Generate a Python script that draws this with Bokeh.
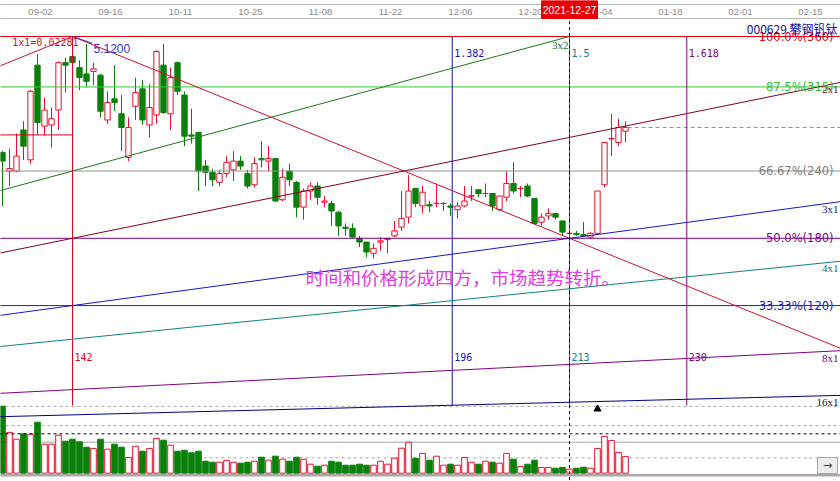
from bokeh.plotting import figure
from bokeh.layouts import column
from bokeh.models import ColumnDataSource, Range1d
from bokeh.core.properties import value
from bokeh.embed import file_html
from bokeh.resources import INLINE

# ---------------------------------------------------------------------------
# 000629 攀钢钒钛 daily bars, 2021-08-25 (index 0) .. 2022-01-07 (index 89)
# ---------------------------------------------------------------------------
opens = [4.19, 4.04, 4.04, 4.37, 4.13, 4.89, 4.40, 4.41, 4.53, 4.91,
         4.96, 4.87, 4.82, 4.84, 4.81, 4.45, 4.62, 4.50, 4.15, 4.56,
         4.70, 4.41, 4.49, 4.89, 4.50, 4.91, 4.65, 4.33, 4.35, 4.08,
         4.03, 3.95, 4.02, 4.05, 4.12, 4.02, 3.93, 4.14, 4.12, 4.14,
         3.81, 4.04, 3.95, 3.75, 3.88, 3.92, 3.79, 3.78, 3.71, 3.59,
         3.58, 3.50, 3.47, 3.38, 3.47, 3.49, 3.52, 3.59, 3.67, 3.90,
         3.76, 3.77, 3.78, 3.78, 3.76, 3.73, 3.76, 3.84, 3.89, 3.86,
         3.86, 3.73, 3.83, 3.94, 3.90, 3.92, 3.82, 3.63, 3.68, 3.70,
         3.64, 3.54, 3.54, 3.53, 3.51, 3.54, 3.93, 4.30, 4.27, 4.36]
highs = [4.20, 4.22, 4.34, 4.44, 4.69, 4.98, 4.63, 4.55, 4.92, 4.95,
         5.12, 4.93, 5.06, 4.91, 4.82, 4.68, 4.89, 4.65, 4.47, 4.79,
         4.77, 4.74, 5.01, 5.06, 4.87, 4.92, 4.68, 4.54, 4.35, 4.13,
         4.06, 4.05, 4.16, 4.20, 4.16, 4.05, 4.15, 4.28, 4.24, 4.14,
         4.06, 4.10, 3.96, 3.90, 3.95, 3.95, 3.84, 3.80, 3.72, 3.62,
         3.62, 3.52, 3.47, 3.46, 3.51, 3.50, 3.64, 3.88, 4.01, 3.90,
         3.92, 3.80, 3.94, 3.79, 3.78, 3.79, 3.92, 3.92, 3.89, 3.94,
         3.86, 3.84, 4.04, 4.11, 3.92, 3.94, 3.82, 3.70, 3.74, 3.70,
         3.64, 3.59, 3.56, 3.63, 3.55, 3.88, 4.27, 4.50, 4.46, 4.44]
lows = [3.76, 3.92, 4.03, 4.13, 4.10, 4.33, 4.33, 4.23, 4.37, 4.67,
        4.68, 4.69, 4.71, 4.73, 4.47, 4.42, 4.52, 4.20, 4.12, 4.45,
        4.41, 4.31, 4.42, 4.50, 4.37, 4.65, 4.24, 4.26, 3.88, 3.92,
        3.92, 3.92, 3.99, 3.96, 4.05, 3.90, 3.91, 4.07, 4.04, 3.79,
        3.80, 3.92, 3.67, 3.65, 3.81, 3.77, 3.75, 3.60, 3.52, 3.52,
        3.50, 3.43, 3.35, 3.34, 3.40, 3.38, 3.51, 3.56, 3.62, 3.75,
        3.70, 3.71, 3.75, 3.72, 3.68, 3.66, 3.75, 3.80, 3.83, 3.83,
        3.72, 3.72, 3.80, 3.86, 3.83, 3.83, 3.61, 3.60, 3.65, 3.65,
        3.52, 3.50, 3.52, 3.51, 3.50, 3.53, 3.91, 4.16, 4.24, 4.27]
closes = [4.12, 4.06, 4.16, 4.24, 4.68, 4.43, 4.53, 4.46, 4.91, 4.89,
          4.91, 4.79, 4.76, 4.86, 4.52, 4.59, 4.59, 4.39, 4.39, 4.67,
          4.45, 4.55, 5.00, 4.51, 4.79, 4.68, 4.32, 4.32, 4.04, 4.03,
          3.97, 4.02, 4.11, 4.12, 4.08, 3.92, 4.10, 4.13, 4.14, 3.80,
          3.99, 3.97, 3.75, 3.88, 3.92, 3.83, 3.80, 3.72, 3.60, 3.58,
          3.51, 3.47, 3.39, 3.42, 3.48, 3.50, 3.56, 3.66, 3.88, 3.78,
          3.87, 3.76, 3.78, 3.78, 3.75, 3.76, 3.80, 3.84, 3.86, 3.86,
          3.76, 3.84, 3.94, 3.88, 3.90, 3.84, 3.62, 3.67, 3.70, 3.67,
          3.55, 3.54, 3.53, 3.52, 3.54, 3.88, 4.27, 4.30, 4.39, 4.39]
# volume, 万手
volumes = [335, 204, 170, 197, 195, 255, 145, 145, 190, 160,
           170, 157, 130, 124, 170, 120, 145, 130, 79, 135,
           110, 124, 174, 165, 140, 110, 115, 102, 110, 60,
           55, 55, 64, 55, 50, 55, 60, 80, 65, 85,
           70, 60, 80, 70, 45, 35, 40, 60, 55, 40,
           40, 45, 40, 40, 60, 45, 75, 125, 155, 75,
           99, 65, 85, 40, 45, 40, 79, 55, 45, 60,
           55, 50, 99, 70, 34, 45, 65, 29, 29, 25,
           29, 20, 25, 30, 25, 124, 184, 164, 104, 84]

# date strip: bar index of each label (bars past the end are future sessions)
date_ticks = [6, 16, 26, 36, 46, 56, 66, 76, 86, 96, 106, 116]
date_labels = ["09-02", "09-16", "10-11", "10-25", "11-08", "11-22",
               "12-06", "12-20", "01-04", "01-18", "02-01", "02-15"]

# ---------------------------------------------------------------------------
# Gann square set-up
# ---------------------------------------------------------------------------
HIGH_BAR = 142            # time count (bars from the swing low) of the 5.12 top
HIGH_PRICE = 5.12
UNIT = 0.02281            # 1x1 step: price per bar
FIRST_BAR = 132           # time count of bar index 0
LOW_PRICE = HIGH_PRICE - UNIT * HIGH_BAR

fan_names = ["1x1", "3x2", "2x1", "3x1", "4x1", "8x1", "16x1"]
fan_ratios = [1.0, 2 / 3, 1 / 2, 1 / 3, 1 / 4, 1 / 8, 1 / 16]
fan_colors = ["#d4102c", "#1a7a1a", "#800020", "#1818c0", "#108080", "#800080", "#000080"]
fan_text_colors = ["#d4102c", "#1a6a1a", "#800020", "#20208a", "#107070", "#700070", "#101040"]

level_pcts = [100.0, 87.5, 66.67, 50.0, 33.33]
level_colors = ["#e00010", "#33cc33", "#909090", "#800080", "#2020c0"]
level_text_colors = ["#e00010", "#33bb33", "#808080", "#800080", "#2020c0"]

time_ratios = [1.0, 1.382, 1.5, 1.618]
time_colors = ["#e00020", "#1010c0", "#108080", "#800080"]

REF_PRICE = 4.33          # short reference level up to the 142 line
CURSOR_INDEX = 81
CURSOR_DATE = "2021-12-27"
SIGNAL_INDEX = 85
CURSOR_VOLUME = 197
vol_guides = [334, 238, 155, 77]
vol_guide_dash = ["3 3", "3 3", "solid", "3 3"]

TITLE = "000629 攀钢钒钛"
NOTE = "时间和价格形成四方，市场趋势转折。"

# ---------------------------------------------------------------------------
# view geometry
# ---------------------------------------------------------------------------
WIDTH, HEADER_H, MAIN_H = 840, 19, 462
PX_PER_BAR = 7.0
PX_PER_YUAN = 124.6
X_START = FIRST_BAR - 2 / PX_PER_BAR
X_END = X_START + WIDTH / PX_PER_BAR
PRICE_TOP = HIGH_PRICE + 17 / PX_PER_YUAN
PRICE_BOTTOM = PRICE_TOP - MAIN_H / PX_PER_YUAN
PANE_LOW = PRICE_TOP - 386 / PX_PER_YUAN
VOL_PER_PX = 5.0
VOL_BASE = 453.7
VOL_TOP = VOL_BASE * VOL_PER_PX
VOL_BOTTOM = -(MAIN_H - VOL_BASE) * VOL_PER_PX

UP, DOWN = "#e8102a", "#0a800a"

# ---------------------------------------------------------------------------
p = figure(width=WIDTH, height=MAIN_H,
           x_range=Range1d(X_START, X_END), y_range=Range1d(PRICE_BOTTOM, PRICE_TOP),
           x_axis_location=None, y_axis_location=None,
           toolbar_location=None, output_backend="svg", min_border=0)
p.xgrid.visible = False
p.ygrid.visible = False
p.outline_line_color = None
p.background_fill_color = "white"
p.border_fill_color = "white"
p.extra_y_ranges = {"vol": Range1d(VOL_BOTTOM, VOL_TOP)}

xl, xr = X_START - 1, X_END + 1

# volume pane guides
for lvl, dash in zip(vol_guides, vol_guide_dash):
    p.segment(xl, lvl, xr, lvl, y_range_name="vol", line_color="#a8a8a8",
              line_width=1, line_dash=dash)
p.segment(xl, -10.5, xr, -10.5, y_range_name="vol", line_color="#b0a6a8", line_width=2.5)

n = len(opens)
bars = [FIRST_BAR + i for i in range(n)]
rising = [c >= o for o, c in zip(opens, closes)]
src = ColumnDataSource(dict(
    t=bars, o=opens, h=highs, l=lows, c=closes, vol=volumes,
    top=[max(o, c) for o, c in zip(opens, closes)],
    bot=[min(o, c) for o, c in zip(opens, closes)],
    color=[UP if r else DOWN for r in rising],
    fill=["white" if r else DOWN for r in rising],
))

# volume bars
p.vbar(x="t", width=0.8, top="vol", bottom=0, y_range_name="vol",
       fill_color="fill", line_color="color", source=src)

# candles
p.segment(x0="t", y0="h", x1="t", y1="l", line_color="color", source=src)
p.vbar(x="t", width=0.76, top="top", bottom="bot", fill_color="fill",
       line_color="color", source=src)
doji = [i for i in range(n) if opens[i] == closes[i]]
p.segment([bars[i] - 0.38 for i in doji], [opens[i] for i in doji],
          [bars[i] + 0.38 for i in doji], [opens[i] for i in doji],
          line_color=UP)

# last close marker
p.segment(bars[-1] + 0.3, closes[-1], xr, closes[-1], line_color="#909090", line_dash="4 3")

# percentage levels
level_prices = [LOW_PRICE + pct / 100 * (HIGH_PRICE - LOW_PRICE) for pct in level_pcts]
for price, col in zip(level_prices, level_colors):
    p.segment(xl, price, xr, price, line_color=col)


def pct_text(pct):
    body = f"{pct:.1f}" if round(pct, 1) == pct else f"{pct:.2f}"
    return f"{body}%({round(pct * 3.6)})"


p.segment(xl, REF_PRICE, HIGH_BAR, REF_PRICE, line_color=level_colors[0])

# time lines at Fibonacci multiples of the 142-bar run
time_bars = [HIGH_BAR * r for r in time_ratios]
for tb, col in zip(time_bars, time_colors):
    p.segment(tb, PANE_LOW, tb, HIGH_PRICE, line_color=col)

# Gann fan from the swing low
fan_label_rows = []
for name, r, col, tcol in zip(fan_names, fan_ratios, fan_colors, fan_text_colors):
    t_top = HIGH_BAR / r
    t_end = min(t_top, xr)
    p.segment(0, LOW_PRICE, t_end, LOW_PRICE + r * UNIT * t_end, line_color=col)
    if name == "1x1":
        continue
    if t_top <= X_END:
        fan_label_rows.append((t_top, HIGH_PRICE, name, tcol, -1, 2))
    else:
        fan_label_rows.append((X_END, LOW_PRICE + r * UNIT * X_END, name, tcol, -2, 1))

# 1x1 falling from the top
p.segment(HIGH_BAR, HIGH_PRICE, xr, HIGH_PRICE - UNIT * (xr - HIGH_BAR),
          line_color=fan_colors[0])

# cursor
cursor_bar = FIRST_BAR + CURSOR_INDEX
p.segment(cursor_bar, PRICE_BOTTOM - 1, cursor_bar, PRICE_TOP + 1,
          line_color="black", line_dash="3 3")
p.segment(xl, CURSOR_VOLUME, xr, CURSOR_VOLUME, y_range_name="vol",
          line_color="black", line_dash="3 3")

# signal marker under the breakout bar
p.scatter([FIRST_BAR + SIGNAL_INDEX], [PANE_LOW - 3.5 / PX_PER_YUAN], marker="triangle",
          size=7, fill_color="black", line_color="black")

# ---- texts ----
for row in fan_label_rows:
    tx, ty, txt, tcol, xo, yo = row
    p.text([tx], [ty], text=[txt], text_font=value("Liberation Serif"),
           text_font_size="11px", text_color=tcol, text_align="right",
           text_baseline="top", x_offset=xo, y_offset=yo)

lvl_src = ColumnDataSource(dict(x=[X_END] * len(level_pcts), y=level_prices,
                                text=[pct_text(v) for v in level_pcts],
                                color=level_text_colors))
p.text("x", "y", text="text", source=lvl_src, text_font=value("DejaVu Sans"),
       text_font_size="11.5px", text_color="color", text_align="right",
       text_baseline="middle", x_offset=-7)

for tb, r, col in zip(time_bars, time_ratios, time_colors):
    if r != 1.0:
        p.text([tb], [HIGH_PRICE], text=[f"{r:g}"], text_font=value("DejaVu Sans Mono"),
               text_font_size="10px", text_color=col, text_baseline="middle",
               x_offset=2, y_offset=16.5)
    p.text([tb], [PANE_LOW], text=[str(round(tb))], text_font=value("DejaVu Sans Mono"),
           text_font_size="10px", text_color=col, text_baseline="middle",
           x_offset=2, y_offset=-48.5)

p.text([HIGH_BAR], [HIGH_PRICE], text=[f"1x1={UNIT}"], text_font=value("DejaVu Sans Mono"),
       text_font_size="10px", text_color="#d4102c", text_align="right",
       text_baseline="middle", x_offset=6, y_offset=6)
p.segment(HIGH_BAR, HIGH_PRICE, HIGH_BAR + 19.5 / PX_PER_BAR, HIGH_PRICE - 6.7 / PX_PER_YUAN,
          line_color="#3030c0")
p.text([HIGH_BAR], [HIGH_PRICE], text=[f"{HIGH_PRICE:.4f}"], text_font=value("Liberation Sans"),
       text_font_size="12px", text_color="#3434c4", text_baseline="middle",
       x_offset=21, y_offset=11.5)

# security name, top right (kept clear of the frame's top edge)
p.text([X_END], [PRICE_TOP], text=[TITLE], text_font=value("Noto Sans CJK SC"),
       text_font_size="12px", text_color="#10109a", text_align="right",
       text_baseline="middle", x_offset=-3, y_offset=9)

p.text([175.3], [3.19], text=[NOTE], text_font=value("Noto Sans CJK SC"),
       text_font_size="18.5px", text_color="#e23be2", text_baseline="middle")

# scroll button, bottom right
p.rect([X_END - 13 / PX_PER_BAR], [38.5], width=20, height=16, width_units="screen",
       height_units="screen", y_range_name="vol", fill_color="#ececec", line_color="#a8a8a8")
p.text([X_END - 13 / PX_PER_BAR], [38.5], text=["→"], y_range_name="vol",
       text_font=value("DejaVu Sans"), text_font_size="11px", text_color="#404040",
       text_align="center", text_baseline="middle")

# ---------------------------------------------------------------------------
# date strip
# ---------------------------------------------------------------------------
hdr = figure(width=WIDTH, height=HEADER_H, x_range=p.x_range, y_range=Range1d(HEADER_H, 0),
             x_axis_location=None, y_axis_location=None,
             toolbar_location=None, output_backend="svg", min_border=0)
hdr.xgrid.visible = False
hdr.ygrid.visible = False
hdr.outline_line_color = None
hdr.background_fill_color = "white"
hdr.border_fill_color = "white"
hdr.segment(xl, 4, xr, 4, line_color="#b8b8b8")
hdr.segment(xl, 18, xr, 18, line_color="#b8b8b8")
hdr.text([FIRST_BAR + i for i in date_ticks], [11.5] * len(date_ticks), text=date_labels,
         text_font=value("Liberation Sans"), text_font_size="9.5px", text_color="#8c8c8c",
         text_align="center", text_baseline="middle", x_offset=-4)
hdr.rect([cursor_bar], [9], width=56, height=18, width_units="screen",
         fill_color="#e60000", line_color="#e60000")
hdr.text([cursor_bar], [9.5], text=[CURSOR_DATE], text_font=value("Liberation Sans"),
         text_font_size="10.5px", text_color="white", text_align="center",
         text_baseline="middle")

layout = column(hdr, p, spacing=0)
open("out.html", "w").write(file_html(layout, INLINE))
